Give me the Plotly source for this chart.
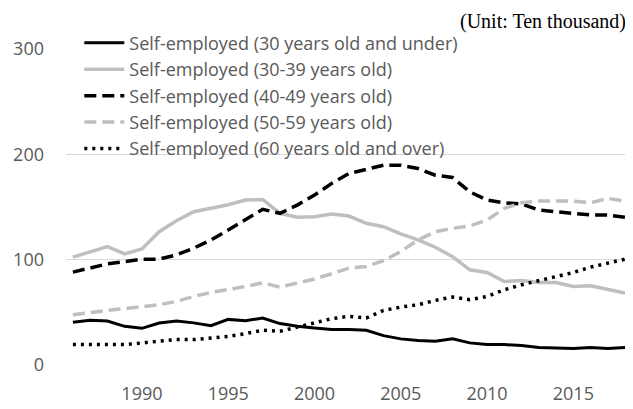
import plotly.graph_objects as go

years = list(range(1986, 2019))

under30 = [40.5, 42.4, 41.8, 36.7, 34.8, 39.9, 41.8, 40.0, 37.4, 43.3, 42.0, 44.6, 39.3, 36.7, 35.2,
           33.6, 33.6, 33.0, 27.9, 24.8, 23.2, 22.5, 24.8, 21.0, 19.4, 19.4, 18.4, 16.6, 16.2, 15.6,
           16.6, 15.6, 16.6]
age30_39 = [102.4, 107.7, 112.4, 105.5, 110.2, 126.6, 137.0, 145.5, 148.7, 152.1, 156.6, 157.2, 144.0,
            140.2, 140.8, 143.3, 141.4, 134.5, 131.3, 124.4, 118.7, 111.8, 102.9, 90.4, 87.8, 79.3,
            80.2, 78.3, 78.3, 74.6, 75.2, 71.4, 68.3]
age40_49 = [88.2, 92.0, 96.0, 98.2, 100.5, 100.5, 104.5, 110.9, 118.7, 128.2, 137.7, 147.8, 144.0,
            151.8, 161.3, 172.4, 181.8, 185.6, 189.7, 189.7, 186.6, 180.2, 178.0, 164.4, 156.6, 154.0,
            152.8, 147.1, 145.5, 144.6, 142.4, 142.4, 140.2]
age50_59 = [47.8, 50.0, 51.8, 53.5, 55.6, 57.2, 60.4, 65.1, 68.9, 71.4, 74.6, 78.0, 74.0, 77.8, 81.6,
            86.6, 92.0, 93.5, 99.0, 107.7, 118.7, 126.6, 129.8, 132.0, 137.7, 148.7, 154.0, 155.6,
            155.9, 155.6, 154.0, 158.2, 155.6]
age60_over = [19.4, 19.7, 19.4, 19.4, 21.0, 22.5, 24.1, 24.1, 25.7, 27.2, 29.8, 33.0, 32.0, 36.1,
              40.5, 44.0, 46.2, 44.6, 51.8, 55.0, 57.2, 61.3, 64.5, 62.0, 65.1, 71.4, 76.2, 79.9,
              84.0, 87.8, 92.9, 96.7, 100.5]

names = ["Self-employed (30 years old and under)",
         "Self-employed (30-39 years old)",
         "Self-employed (40-49 years old)",
         "Self-employed (50-59 years old)",
         "Self-employed (60 years old and over)"]
series = [under30, age30_39, age40_49, age50_59, age60_over]
colors = ["#000000", "#bfbfbf", "#000000", "#bfbfbf", "#000000"]
dashes = ["solid", "solid", "12px,6px", "12px,6px", "3px,5px"]
widths = [3, 3.5, 3.5, 3.5, 3.5]

fig = go.Figure()
for n, s, c, d, w in zip(names, series, colors, dashes, widths):
    fig.add_trace(go.Scatter(x=years, y=s, mode="lines", name=n,
                             line=dict(color=c, dash=d, width=w)))

font_family = "Open Sans, DejaVu Sans, sans-serif"
# the page body has an 8px margin, so the figure is sized to fill the rest of the window
fig.update_layout(
    width=625, height=401,
    margin=dict(l=58, r=1, t=40.5, b=43.5, autoexpand=False),
    plot_bgcolor="white", paper_bgcolor="white",
    font=dict(family=font_family, size=18, color="#595959"),
    showlegend=True,
    legend=dict(x=0.0235, y=1.077, xanchor="left", yanchor="top",
                bgcolor="rgba(0,0,0,0)", font=dict(size=18, color="#595959"),
                itemwidth=40),
    xaxis=dict(range=[1985.6, 2018.4], tickvals=[1990, 1995, 2000, 2005, 2010, 2015],
               showgrid=False, zeroline=False, showline=False, ticks="",
               ticklabelstandoff=16),
    yaxis=dict(range=[0, 300], tickvals=[0, 100, 200, 300], showgrid=True,
               gridcolor="#d9d9d9", gridwidth=1, zeroline=False, showline=False,
               ticks="", ticklabelstandoff=21),
    annotations=[dict(text="(Unit: Ten thousand)", xref="paper", yref="paper",
                      x=1.0, y=1.0, xanchor="right", yanchor="top", yshift=40.5, xshift=-5,
                      showarrow=False, borderpad=0,
                      font=dict(family="Liberation Serif, Times New Roman, serif",
                                size=20, color="#000000"))],
)

fig.write_html("out.html")
